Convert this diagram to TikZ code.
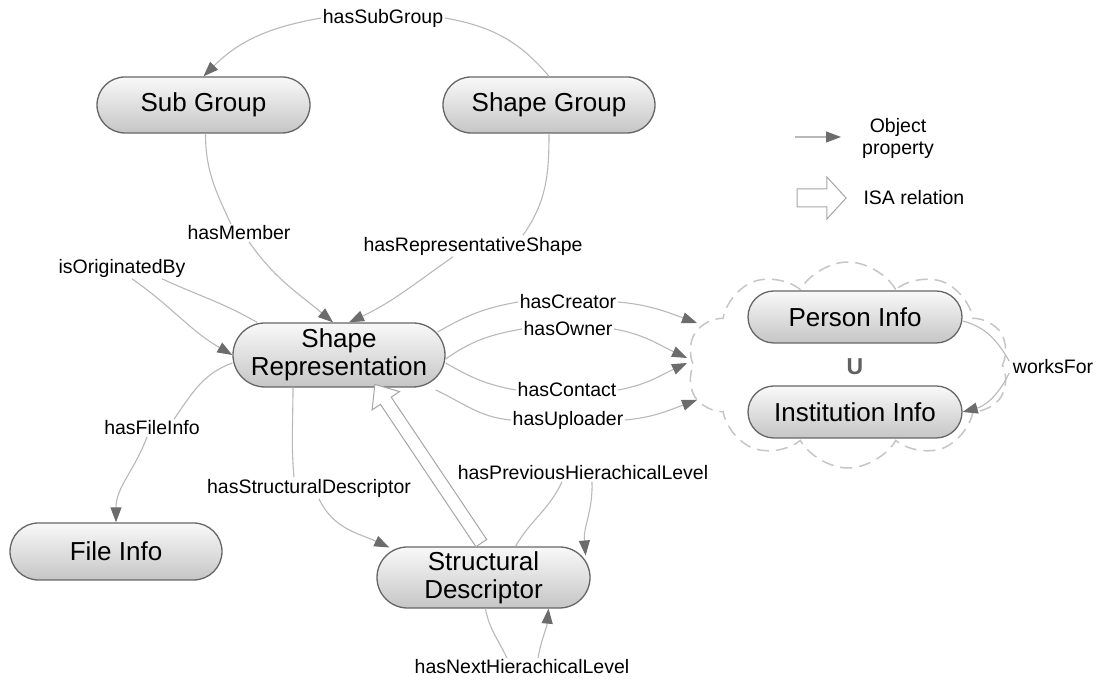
\documentclass[tikz,border=0pt]{standalone}
\usepackage{fontspec}
\setmainfont{Liberation Sans}
\usetikzlibrary{shapes.misc,shapes.symbols,shapes.arrows,arrows.meta,calc}
\begin{document}
\begin{tikzpicture}[x=1pt,y=1pt,
  cls/.style={rounded rectangle, draw=black!60, line width=1.3pt, top color=gray!5, bottom color=gray!45,
    font=\fontsize{26}{30}\selectfont, align=center, inner sep=0pt},
  lbl/.style={fill=white, inner sep=1.5pt, font=\fontsize{19.5}{21}\selectfont},
  link/.style={draw=gray!55, line width=1.1pt},
  prop/.style={link, -{Triangle[length=15pt,width=11pt,color=gray!85!black]}},
  isashape/.style={single arrow, draw=gray!70, line width=1pt, fill=white, inner sep=6pt,
    single arrow head extend=10pt, single arrow tip angle=80}
]
\fill[white] (0,0) rectangle (1096,682);
\useasboundingbox (0,0) rectangle (1096,682);

% cloud
\node[cloud, cloud puffs=10, cloud puff arc=120, cloud ignores aspect, minimum width=322, minimum height=206,
  draw=gray!45, line width=1.5pt, dash pattern=on 12pt off 7pt] (cl) at (848,317) {};

% classes
\node[cls, minimum width=213, minimum height=56] (sub) at (203.5,577) {Sub Group};
\node[cls, minimum width=212, minimum height=56] (sg) at (549,577) {Shape Group};
\node[cls, minimum width=212, minimum height=64] (sr) at (339,327) {Shape\\[-2pt]Representation};
\node[cls, minimum width=212, minimum height=57] (fi) at (116,130.5) {File Info};
\node[cls, minimum width=213, minimum height=61] (sd) at (483.5,104.5) {Structural\\[-2pt]Descriptor};
\node[cls, minimum width=214, minimum height=52] (pi) at (855,365) {Person Info};
\node[cls, minimum width=214, minimum height=52] (ii) at (855,270) {Institution Info};
\node[font=\fontsize{23}{24}\selectfont\bfseries, text=gray!75!black] (un) at (855,315) {U};

% labels
\node[lbl] (lsg) at (383,664) {hasSubGroup};
\node[lbl] (lhm) at (239,449) {hasMember};
\node[lbl] (lhr) at (473,436) {hasRepresentativeShape};
\node[lbl] (lio) at (122,414) {isOriginatedBy};
\node[lbl] (lhc) at (568,380) {hasCreator};
\node[lbl] (lho) at (568,353) {hasOwner};
\node[lbl] (lhct) at (567,292) {hasContact};
\node[lbl] (lhu) at (568,262) {hasUploader};
\node[lbl] (lhf) at (152,254) {hasFileInfo};
\node[lbl] (lhs) at (309,194) {hasStructuralDescriptor};
\node[lbl] (lhp) at (583,209) {hasPreviousHierachicalLevel};
\node[lbl] (lhn) at (522,15) {hasNextHierachicalLevel};
\node[lbl] (lwf) at (1053,315) {worksFor};

% free ends on the cloud
\coordinate (tcr) at (697,359);
\coordinate (tow) at (687,324);
\coordinate (tco) at (687,319);
\coordinate (tup) at (697,282);

% hasSubGroup
\draw[link] (sg.north) to[out=130,in=-10] (lsg.east);
\draw[prop] (lsg.west) to[out=190,in=45] (sub.north);
% hasMember
\draw[link] ([xshift=2]sub.south) to[out=-90,in=115] ([xshift=-8]lhm.north);
\draw[prop] ([xshift=10]lhm.south) to[out=-55,in=140] ([xshift=-6]sr.north);
% hasRepresentativeShape
\draw[link] (sg.south) to[out=-90,in=55] ([xshift=50]lhr.north);
\draw[prop] ([xshift=-20]lhr.south) to[out=-145,in=25] ([xshift=10]sr.north);
% isOriginatedBy
\draw[link] ([xshift=40]lio.south) to[out=-25,in=150] ([xshift=-82]sr.north);
\draw[prop] ([xshift=10]lio.south) to[out=-35,in=150] (sr.west);
% hasFileInfo
\draw[link] ([yshift=-8]sr.west) to[out=200,in=55] ([xshift=22]lhf.north);
\draw[prop] ([xshift=-5]lhf.south) to[out=-110,in=90] (fi.north);
% hasStructuralDescriptor
\draw[link] ([xshift=-46]sr.south) to[out=-90,in=95] ([xshift=-15]lhs.north);
\draw[prop] ([xshift=10]lhs.south) to[out=-65,in=155] ([xshift=13,yshift=30]sd.west);
% hasPreviousHierachicalLevel
\draw[link] ([xshift=32]sd.north) to[out=60,in=-115] ([xshift=-21]lhp.south);
\draw[prop] ([xshift=9]lhp.south) to[out=-88,in=95] ([xshift=-5,yshift=22]sd.east);
% hasNextHierachicalLevel
\draw[link] ([xshift=2]sd.south) to[out=-80,in=115] ([xshift=-15]lhn.north);
\draw[prop] ([xshift=16]lhn.north) to[out=80,in=-95] ([xshift=65]sd.south);
% to the cloud
\draw[link] ([xshift=-8,yshift=23]sr.east) to[out=30,in=190] (lhc.west);
\draw[prop] (lhc.east) to[out=-5,in=160] (tcr);
\draw[link] ([yshift=-4]sr.east) to[out=35,in=190] (lho.west);
\draw[prop] (lho.east) to[out=-10,in=155] (tow);
\draw[link] ([yshift=-8]sr.east) to[out=-30,in=170] (lhct.west);
\draw[prop] (lhct.east) to[out=10,in=-155] (tco);
\draw[link] ([xshift=-10,yshift=-35]sr.east) to[out=-25,in=175] (lhu.west);
\draw[prop] (lhu.east) to[out=5,in=-160] (tup);
% worksFor
\draw[link] ([yshift=-4]pi.east) to[out=-15,in=120] ([xshift=-2,yshift=-3]lwf.north west);
\draw[prop] ([xshift=-2,yshift=3]lwf.south west) to[out=-115,in=15] (ii.east);

% ISA relation
\path let \p1=(sd.north), \p2=([xshift=38]sr.south),
  \n1={atan2(\y2-\y1,\x2-\x1)}, \n2={veclen(\x2-\x1,\y2-\y1)} in
  node[isashape, minimum height=\n2, rotate=\n1] (isaarr) at ($(\p1)!0.5!(\p2)$) {};

% legend
\coordinate (lga) at (795,545);
\coordinate (lgb) at (841,545);
\draw[prop] (lga) -- (lgb);
\node[font=\fontsize{19.5}{22}\selectfont, align=center] (lgt) at (898,544) {Object\\property};
\node[single arrow, draw=gray!70, line width=1pt, fill=white, inner sep=8.5pt,
  single arrow head extend=12pt, single arrow tip angle=95, minimum height=49] (lgisa) at (817.5,484) {};
\node[font=\fontsize{19.5}{21}\selectfont, anchor=west] (lgit) at (860,484) {ISA relation};
\end{tikzpicture}
\end{document}
